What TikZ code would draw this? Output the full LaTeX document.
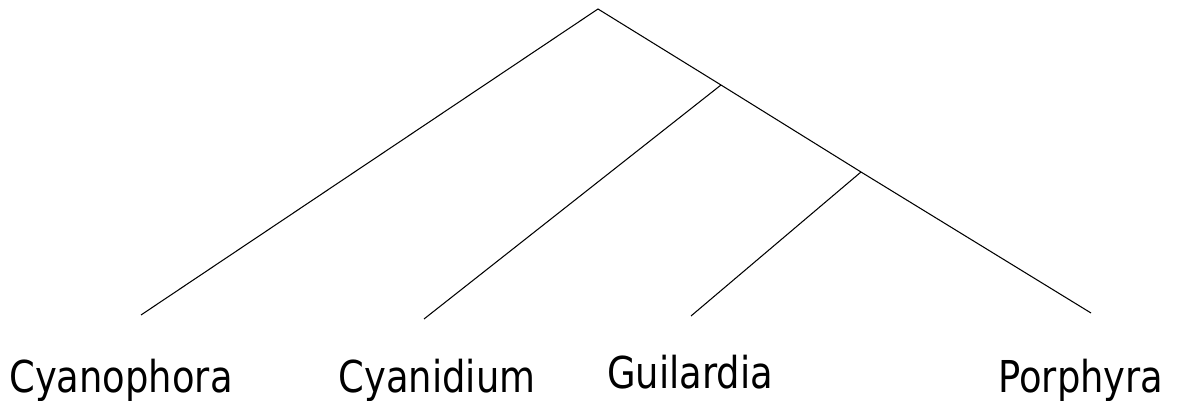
\documentclass[tikz,border=0pt]{standalone}
\usepackage{fontspec}
\setmainfont[FakeStretch=0.84]{DejaVu Sans}
\usetikzlibrary{positioning}

\begin{document}
\begin{tikzpicture}[x=0.02cm, y=-0.02cm, every node/.style={font=\fontsize{25}{30}\selectfont}]
  \useasboundingbox (0,0) rectangle (1188,401);
  % inner nodes of the tree
  \coordinate (root) at (598,9);
  \coordinate (n1) at (721,85);
  \coordinate (n2) at (861,172);
  % leaf ends
  \coordinate (l1) at (141,315);
  \coordinate (l2) at (424,319);
  \coordinate (l3) at (691,316);
  \coordinate (l4) at (1091,313);
  \draw[line width=0.6pt] (l1) -- (root) -- (n1) -- (n2) -- (l4);
  \draw[line width=0.6pt] (n1) -- (l2);
  \draw[line width=0.6pt] (n2) -- (l3);
  % labels
  \node[anchor=base] (t1) at (121,393) {Cyanophora};
  \node[anchor=base] (t2) at (437,393) {Cyanidium};
  \node[anchor=base] (t3) at (690,389) {Guilardia};
  \node[anchor=base] (t4) at (1081,393) {Porphyra};
\end{tikzpicture}
\end{document}
